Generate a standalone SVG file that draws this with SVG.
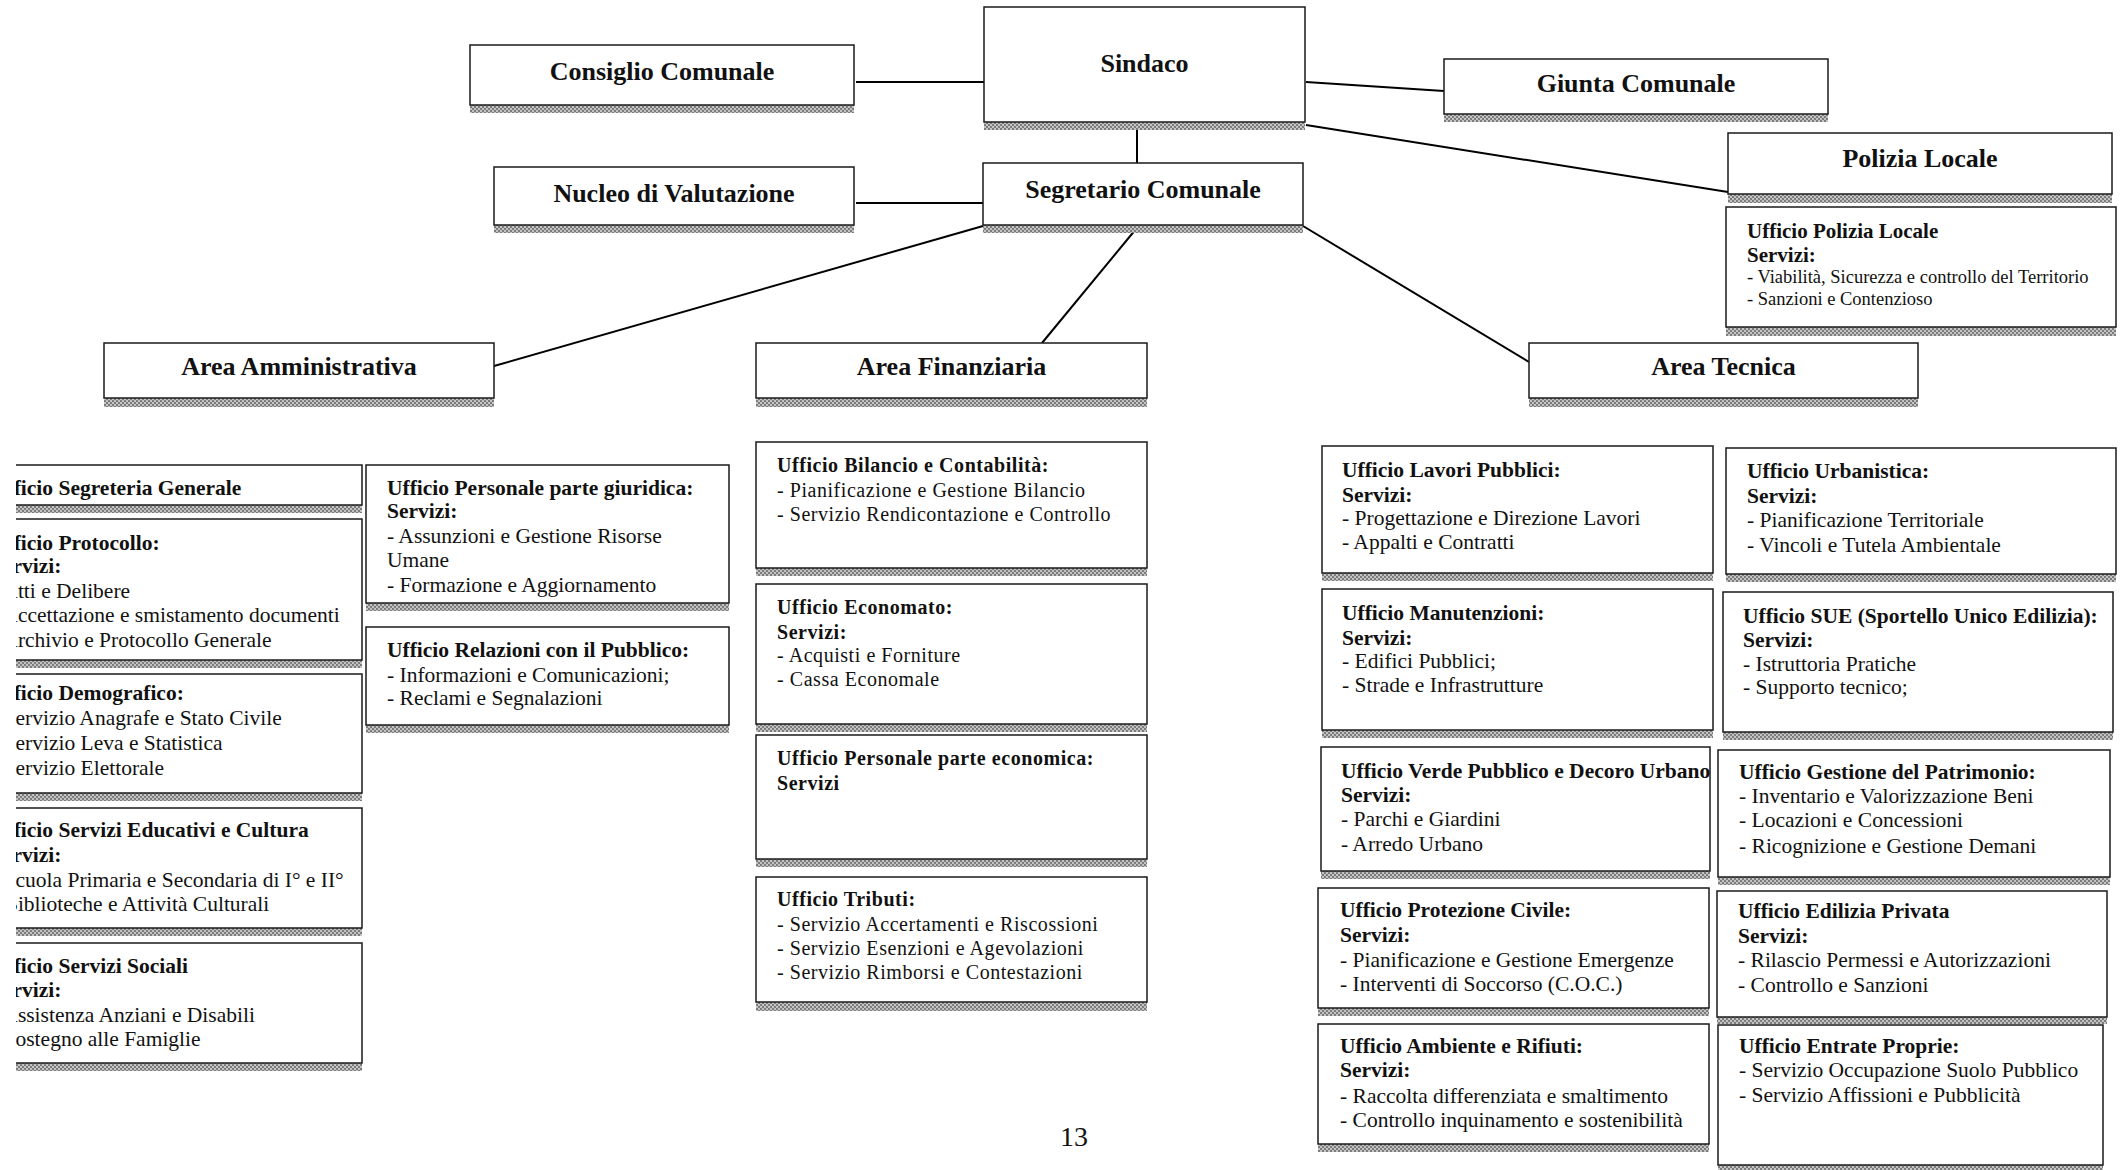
<svg xmlns="http://www.w3.org/2000/svg" width="2127" height="1170" viewBox="0 0 2127 1170">
<defs>
<pattern id="sp" width="4" height="4" patternUnits="userSpaceOnUse"><rect width="4" height="4" fill="#c4c4c4"/><rect width="2" height="2" fill="#7c7c7c"/><rect x="2" y="2" width="2" height="2" fill="#7c7c7c"/></pattern>
<clipPath id="leftclip"><rect x="16" y="0" width="400" height="1170"/></clipPath>
</defs>
<style>
.bx{fill:#fff;stroke:#1a1a1a;stroke-width:1.5}
.sh{fill:url(#sp)}
.h{font-family:"Liberation Serif",serif;font-weight:bold;font-size:26px;text-anchor:middle;fill:#111}
.t{font-family:"Liberation Serif",serif;font-size:21.5px;fill:#111}
.b{font-weight:bold}
.f{font-size:20px;letter-spacing:0.55px}
.p{font-size:18.5px}
.conn line{stroke:#000;stroke-width:2}
</style>
<rect width="2127" height="1170" fill="#fff"/>

<g id="connectors" class="conn">
<line x1="856" y1="82" x2="984" y2="82"/>
<line x1="1306" y1="82" x2="1444" y2="91"/>
<line x1="1306" y1="125" x2="1728" y2="192"/>
<line x1="1137" y1="130" x2="1137" y2="163"/>
<line x1="856" y1="203" x2="983" y2="203"/>
<line x1="983" y1="226" x2="494" y2="366"/>
<line x1="1136" y1="229" x2="1042" y2="343"/>
<line x1="1303" y1="226" x2="1529" y2="362"/>
</g>

<g id="sindaco"><rect class="sh" x="984" y="122" width="321" height="8"/><rect class="bx" x="984" y="7" width="321" height="115"/><text class="h" x="1144.5" y="72">Sindaco</text></g>
<g id="consiglio"><rect class="sh" x="470" y="105" width="384" height="8"/><rect class="bx" x="470" y="45" width="384" height="60"/><text class="h" x="662" y="80">Consiglio Comunale</text></g>
<g id="giunta"><rect class="sh" x="1444" y="114" width="384" height="8"/><rect class="bx" x="1444" y="59" width="384" height="55"/><text class="h" x="1636" y="92">Giunta Comunale</text></g>
<g id="nucleo"><rect class="sh" x="494" y="225" width="360" height="8"/><rect class="bx" x="494" y="167" width="360" height="58"/><text class="h" x="674" y="202">Nucleo di Valutazione</text></g>
<g id="segretario"><rect class="sh" x="983" y="225" width="320" height="8"/><rect class="bx" x="983" y="163" width="320" height="62"/><text class="h" x="1143" y="198">Segretario Comunale</text></g>
<g id="polizia"><rect class="sh" x="1728" y="194" width="384" height="9"/><rect class="bx" x="1728" y="133" width="384" height="61"/><text class="h" x="1920" y="167">Polizia Locale</text></g>
<g id="ufficio-polizia"><rect class="sh" x="1726" y="327" width="390" height="9"/><rect class="bx" x="1726" y="207" width="390" height="120"/>
<text class="t b" x="1747" y="238" style="font-size:21px">Ufficio Polizia Locale</text>
<text class="t b" x="1747" y="262" style="font-size:21px">Servizi:</text>
<text class="t p" x="1747" y="283">- Viabilità, Sicurezza e controllo del Territorio</text>
<text class="t p" x="1747" y="305">- Sanzioni e Contenzioso</text></g>

<g id="area-amministrativa"><rect class="sh" x="104" y="398" width="390" height="9"/><rect class="bx" x="104" y="343" width="390" height="55"/><text class="h" x="299" y="375">Area Amministrativa</text></g>
<g id="area-finanziaria"><rect class="sh" x="756" y="398" width="391" height="9"/><rect class="bx" x="756" y="343" width="391" height="55"/><text class="h" x="951.5" y="375">Area Finanziaria</text></g>
<g id="area-tecnica"><rect class="sh" x="1529" y="398" width="389" height="9"/><rect class="bx" x="1529" y="343" width="389" height="55"/><text class="h" x="1723.5" y="375">Area Tecnica</text></g>

<g clip-path="url(#leftclip)">
<g id="segreteria"><rect class="sh" x="-30" y="505" width="392" height="8"/><rect class="bx" x="-30" y="465" width="392" height="40"/>
<text class="t b" x="-9" y="495">Ufficio Segreteria Generale</text></g>
<g id="protocollo"><rect class="sh" x="-30" y="660" width="392" height="8"/><rect class="bx" x="-30" y="519" width="392" height="141"/>
<text class="t b" x="-9" y="550">Ufficio Protocollo:</text>
<text class="t b" x="-9" y="573">Servizi:</text>
<text class="t" x="-9" y="598">- Atti e Delibere</text>
<text class="t" x="-9" y="622">- Accettazione e smistamento documenti</text>
<text class="t" x="-9" y="647">- Archivio e Protocollo Generale</text></g>
<g id="demografico"><rect class="sh" x="-30" y="793" width="392" height="8"/><rect class="bx" x="-30" y="674" width="392" height="119"/>
<text class="t b" x="-9" y="700">Ufficio Demografico:</text>
<text class="t" x="-9" y="725">- Servizio Anagrafe e Stato Civile</text>
<text class="t" x="-9" y="750">- Servizio Leva e Statistica</text>
<text class="t" x="-9" y="775">- Servizio Elettorale</text></g>
<g id="educativi"><rect class="sh" x="-30" y="928" width="392" height="8"/><rect class="bx" x="-30" y="808" width="392" height="120"/>
<text class="t b" x="-9" y="837">Ufficio Servizi Educativi e Cultura</text>
<text class="t b" x="-9" y="862">Servizi:</text>
<text class="t" x="-9" y="887">- Scuola Primaria e Secondaria di I° e II°</text>
<text class="t" x="-9" y="911">- Biblioteche e Attività Culturali</text></g>
<g id="sociali"><rect class="sh" x="-30" y="1063" width="392" height="8"/><rect class="bx" x="-30" y="943" width="392" height="120"/>
<text class="t b" x="-9" y="973">Ufficio Servizi Sociali</text>
<text class="t b" x="-9" y="997">Servizi:</text>
<text class="t" x="-9" y="1022">- Assistenza Anziani e Disabili</text>
<text class="t" x="-9" y="1046">- Sostegno alle Famiglie</text></g>
</g>

<g id="personale-giuridica"><rect class="sh" x="366" y="603" width="363" height="8"/><rect class="bx" x="366" y="465" width="363" height="138"/>
<text class="t b" x="387" y="495">Ufficio Personale parte giuridica:</text>
<text class="t b" x="387" y="518">Servizi:</text>
<text class="t" x="387" y="543">- Assunzioni e Gestione Risorse</text>
<text class="t" x="387" y="567">Umane</text>
<text class="t" x="387" y="592">- Formazione e Aggiornamento</text></g>
<g id="relazioni"><rect class="sh" x="366" y="725" width="363" height="8"/><rect class="bx" x="366" y="627" width="363" height="98"/>
<text class="t b" x="387" y="657">Ufficio Relazioni con il Pubblico:</text>
<text class="t" x="387" y="682">- Informazioni e Comunicazioni;</text>
<text class="t" x="387" y="705">- Reclami e Segnalazioni</text></g>

<g id="bilancio"><rect class="sh" x="756" y="568" width="391" height="8"/><rect class="bx" x="756" y="442" width="391" height="126"/>
<text class="t f b" x="777" y="472">Ufficio Bilancio e Contabilità:</text>
<text class="t f" x="777" y="497">- Pianificazione e Gestione Bilancio</text>
<text class="t f" x="777" y="521">- Servizio Rendicontazione e Controllo</text></g>
<g id="economato"><rect class="sh" x="756" y="724" width="391" height="8"/><rect class="bx" x="756" y="584" width="391" height="140"/>
<text class="t f b" x="777" y="614">Ufficio Economato:</text>
<text class="t f b" x="777" y="639">Servizi:</text>
<text class="t f" x="777" y="662">- Acquisti e Forniture</text>
<text class="t f" x="777" y="686">- Cassa Economale</text></g>
<g id="personale-economica"><rect class="sh" x="756" y="859" width="391" height="8"/><rect class="bx" x="756" y="735" width="391" height="124"/>
<text class="t f b" x="777" y="765">Ufficio Personale parte economica:</text>
<text class="t f b" x="777" y="790">Servizi</text></g>
<g id="tributi"><rect class="sh" x="756" y="1002" width="391" height="9"/><rect class="bx" x="756" y="877" width="391" height="125"/>
<text class="t f b" x="777" y="906">Ufficio Tributi:</text>
<text class="t f" x="777" y="931">- Servizio Accertamenti e Riscossioni</text>
<text class="t f" x="777" y="955">- Servizio Esenzioni e Agevolazioni</text>
<text class="t f" x="777" y="979">- Servizio Rimborsi e Contestazioni</text></g>

<g id="lavori-pubblici"><rect class="sh" x="1322" y="573" width="391" height="8"/><rect class="bx" x="1322" y="446" width="391" height="127"/>
<text class="t b" x="1342" y="477">Ufficio Lavori Pubblici:</text>
<text class="t b" x="1342" y="502">Servizi:</text>
<text class="t" x="1342" y="525">- Progettazione e Direzione Lavori</text>
<text class="t" x="1342" y="549">- Appalti e Contratti</text></g>
<g id="urbanistica"><rect class="sh" x="1726" y="574" width="390" height="8"/><rect class="bx" x="1726" y="448" width="390" height="126"/>
<text class="t b" x="1747" y="478">Ufficio Urbanistica:</text>
<text class="t b" x="1747" y="503">Servizi:</text>
<text class="t" x="1747" y="527">- Pianificazione Territoriale</text>
<text class="t" x="1747" y="552">- Vincoli e Tutela Ambientale</text></g>
<g id="manutenzioni"><rect class="sh" x="1322" y="730" width="391" height="8"/><rect class="bx" x="1322" y="589" width="391" height="141"/>
<text class="t b" x="1342" y="620">Ufficio Manutenzioni:</text>
<text class="t b" x="1342" y="645">Servizi:</text>
<text class="t" x="1342" y="668">- Edifici Pubblici;</text>
<text class="t" x="1342" y="692">- Strade e Infrastrutture</text></g>
<g id="sue"><rect class="sh" x="1723" y="732" width="390" height="8"/><rect class="bx" x="1723" y="592" width="390" height="140"/>
<text class="t b" x="1743" y="623">Ufficio SUE (Sportello Unico Edilizia):</text>
<text class="t b" x="1743" y="647">Servizi:</text>
<text class="t" x="1743" y="671">- Istruttoria Pratiche</text>
<text class="t" x="1743" y="694">- Supporto tecnico;</text></g>
<g id="verde"><rect class="sh" x="1321" y="871" width="389" height="8"/><rect class="bx" x="1321" y="747" width="389" height="124"/>
<text class="t b" x="1341" y="778">Ufficio Verde Pubblico e Decoro Urbano</text>
<text class="t b" x="1341" y="802">Servizi:</text>
<text class="t" x="1341" y="826">- Parchi e Giardini</text>
<text class="t" x="1341" y="851">- Arredo Urbano</text></g>
<g id="patrimonio"><rect class="sh" x="1718" y="877" width="392" height="8"/><rect class="bx" x="1718" y="750" width="392" height="127"/>
<text class="t b" x="1739" y="779">Ufficio Gestione del Patrimonio:</text>
<text class="t" x="1739" y="803">- Inventario e Valorizzazione Beni</text>
<text class="t" x="1739" y="827">- Locazioni e Concessioni</text>
<text class="t" x="1739" y="853">- Ricognizione e Gestione Demani</text></g>
<g id="protezione-civile"><rect class="sh" x="1318" y="1008" width="391" height="8"/><rect class="bx" x="1318" y="888" width="391" height="120"/>
<text class="t b" x="1340" y="917">Ufficio Protezione Civile:</text>
<text class="t b" x="1340" y="942">Servizi:</text>
<text class="t" x="1340" y="967">- Pianificazione e Gestione Emergenze</text>
<text class="t" x="1340" y="991">- Interventi di Soccorso (C.O.C.)</text></g>
<g id="edilizia-privata"><rect class="sh" x="1717" y="1017" width="390" height="7"/><rect class="bx" x="1717" y="891" width="390" height="126"/>
<text class="t b" x="1738" y="918">Ufficio Edilizia Privata</text>
<text class="t b" x="1738" y="943">Servizi:</text>
<text class="t" x="1738" y="967">- Rilascio Permessi e Autorizzazioni</text>
<text class="t" x="1738" y="992">- Controllo e Sanzioni</text></g>
<g id="ambiente"><rect class="sh" x="1318" y="1144" width="391" height="8"/><rect class="bx" x="1318" y="1024" width="391" height="120"/>
<text class="t b" x="1340" y="1053">Ufficio Ambiente e Rifiuti:</text>
<text class="t b" x="1340" y="1077">Servizi:</text>
<text class="t" x="1340" y="1103">- Raccolta differenziata e smaltimento</text>
<text class="t" x="1340" y="1127">- Controllo inquinamento e sostenibilità</text></g>
<g id="entrate"><rect class="sh" x="1718" y="1165" width="385" height="8"/><rect class="bx" x="1718" y="1025" width="385" height="140"/>
<text class="t b" x="1739" y="1053">Ufficio Entrate Proprie:</text>
<text class="t" x="1739" y="1077">- Servizio Occupazione Suolo Pubblico</text>
<text class="t" x="1739" y="1102">- Servizio Affissioni e Pubblicità</text></g>

<text x="1060" y="1146" style="font-family:'Liberation Serif',serif;font-size:28px;fill:#111">13</text>
</svg>
